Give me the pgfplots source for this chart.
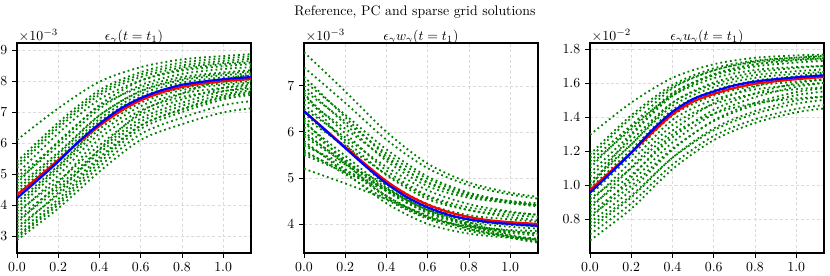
\documentclass[border=0pt]{standalone}
\usepackage{pgfplots}
\usepackage{pgfplotstable}
\pgfplotsset{compat=1.18}
\definecolor{mplgreen}{rgb}{0,0.5,0}

\pgfplotstableread{
x c1 c2 c3 c4 c5 c6 c7 c8 c9 c10 c11 c12 c13 c14 c15 c16 c17 c18 c19 c20 c21 c22 c23 c24 c25 c26
0 6.1 5.3 5.2 5.0 4.8 4.7 4.6 4.5 4.4 4.3 4.1 4.0 3.9 3.8 3.7 3.6 3.5 3.4 3.3 3.2 3.1 3.0 2.95 2.87 4.9 5.4
0.2 7.12 6.57 6.48 6.31 5.90 6.05 5.70 5.64 5.53 5.44 5.27 5.22 5.12 4.78 4.95 4.61 4.51 4.71 4.33 4.40 4.19 4.09 4.01 3.89 6.01 6.66
0.4 7.98 7.63 7.55 7.41 7.10 7.18 6.90 6.89 6.78 6.69 6.56 6.55 6.45 5.93 6.31 5.78 5.68 6.14 5.54 5.80 5.47 5.37 5.24 5.08 7.23 7.71
0.6 8.45 8.21 8.13 8.02 7.87 7.80 7.67 7.69 7.58 7.49 7.38 7.40 7.30 6.92 7.19 6.79 6.69 7.05 6.57 7.00 6.56 6.46 6.29 6.10 8.01 8.29
0.8 8.70 8.51 8.44 8.34 8.23 8.13 8.03 8.07 7.95 7.87 7.77 7.81 7.71 7.41 7.60 7.30 7.20 7.49 7.08 7.60 7.10 7.00 6.82 6.61 8.38 8.60
1.0 8.81 8.65 8.58 8.48 8.39 8.28 8.19 8.24 8.12 8.04 7.93 7.98 7.88 7.78 7.78 7.67 7.57 7.68 7.47 8.05 7.51 7.41 7.22 6.99 8.54 8.73
1.135 8.87 8.72 8.65 8.55 8.45 8.35 8.25 8.30 8.18 8.10 8.00 8.05 7.95 7.90 7.85 7.80 7.70 7.75 7.60 8.20 7.65 7.55 7.35 7.12 8.60 8.80
}\tabA

\pgfplotstableread{
x c1 c2 c3 c4 c5 c6 c7 c8 c9 c10 c11 c12 c13 c14 c15 c16 c17 c18 c19 c20 c21 c22 c23 c24 c25 c26
0 7.73 7.4 7.1 7.0 6.9 6.8 6.7 6.6 6.5 6.4 6.3 6.2 6.1 6.0 5.95 5.9 5.8 5.75 5.7 5.6 5.55 5.5 5.2 7.2 6.85 6.25
0.2 6.88 6.63 6.37 6.17 6.23 5.97 6.07 5.82 5.88 5.65 5.70 5.48 5.40 5.30 5.36 5.32 5.12 5.19 5.29 5.08 5.16 5.12 4.88 6.32 5.75 5.34
0.4 6.00 5.83 5.62 5.37 5.53 5.16 5.42 5.06 5.24 4.92 5.08 4.78 4.71 4.61 4.76 4.72 4.45 4.61 4.86 4.53 4.76 4.72 4.54 5.47 4.82 4.57
0.6 5.31 5.21 5.03 4.82 4.98 4.62 4.91 4.54 4.73 4.43 4.59 4.31 4.25 4.15 4.28 4.24 4.00 4.16 4.41 4.11 4.33 4.30 4.19 4.89 4.30 4.14
0.8 4.90 4.84 4.68 4.57 4.65 4.36 4.61 4.30 4.43 4.19 4.30 4.09 4.03 3.93 3.99 3.97 3.79 3.89 4.04 3.85 3.99 3.96 3.90 4.62 4.07 3.95
1.0 4.68 4.64 4.49 4.46 4.48 4.25 4.45 4.20 4.27 4.10 4.15 4.00 3.94 3.84 3.85 3.81 3.70 3.74 3.77 3.72 3.74 3.71 3.70 4.50 3.98 3.87
1.135 4.59 4.55 4.41 4.41 4.40 4.20 4.38 4.15 4.20 4.05 4.08 3.95 3.90 3.80 3.78 3.75 3.66 3.68 3.65 3.66 3.62 3.60 3.60 4.45 3.95 3.85
}\tabB

\pgfplotstableread{
x c1 c2 c3 c4 c5 c6 c7 c8 c9 c10 c11 c12 c13 c14 c15 c16 c17 c18 c19 c20 c21 c22 c23 c24 c25 c26
0 1.295 1.18 1.16 1.12 1.10 1.07 1.05 1.02 1.00 0.98 0.96 0.94 0.92 0.90 0.88 0.86 0.84 0.82 0.80 0.78 0.76 0.74 0.71 0.674 1.14 0.99
0.2 1.484 1.41 1.394 1.327 1.34 1.30 1.264 1.239 1.238 1.208 1.190 1.171 1.098 1.138 1.058 1.103 1.022 0.995 1.045 0.970 0.938 0.927 0.892 0.860 1.351 1.29
0.4 1.630 1.588 1.575 1.541 1.526 1.536 1.485 1.465 1.483 1.442 1.426 1.409 1.320 1.383 1.280 1.353 1.250 1.214 1.297 1.207 1.160 1.161 1.120 1.093 1.568 1.523
0.6 1.710 1.686 1.675 1.645 1.628 1.651 1.592 1.575 1.602 1.556 1.541 1.525 1.482 1.502 1.442 1.475 1.418 1.375 1.419 1.380 1.322 1.333 1.288 1.264 1.673 1.65
0.8 1.748 1.732 1.722 1.697 1.676 1.709 1.646 1.630 1.662 1.614 1.599 1.583 1.579 1.562 1.539 1.536 1.516 1.470 1.481 1.483 1.419 1.434 1.386 1.365 1.727 1.71
1.0 1.762 1.749 1.739 1.720 1.694 1.734 1.669 1.654 1.688 1.639 1.623 1.608 1.638 1.588 1.598 1.563 1.577 1.528 1.508 1.546 1.478 1.497 1.447 1.427 1.749 1.733
1.135 1.767 1.755 1.745 1.73 1.70 1.745 1.68 1.665 1.70 1.65 1.635 1.62 1.66 1.60 1.62 1.575 1.60 1.55 1.52 1.57 1.50 1.52 1.47 1.45 1.76 1.74
}\tabC

\pgfplotsset{
  panel/.style={
    scale only axis, width=168.48bp, height=151.2bp,
    xmin=0, xmax=1.135,
    xtick={0,0.2,0.4,0.6,0.8,1.0},
    xticklabel style={/pgf/number format/.cd,fixed,fixed zerofill,precision=1},
    tick pos=left, tick align=outside, major tick length=3.5bp,
    tick style={black, line width=0.6bp},
    grid=major, grid style={gray!28, line width=0.45bp, dash pattern=on 2.2bp off 1.6bp},
    axis line style={black, line width=1bp},
    anchor=south west,
    title style={yshift=-10.2bp},
  },
  gr/.style={mplgreen, line width=1.3bp, dash pattern=on 1.3bp off 2.2bp, smooth},
  bl/.style={blue, line width=1.6bp, smooth},
  rd/.style={red, line width=1.6bp, smooth},
}

\begin{document}
\begin{tikzpicture}
\useasboundingbox (0,0) rectangle (597.6bp,198.72bp);

\begin{axis}[panel, name=ax1, at={(12.24bp,16.56bp)},
  ymin=2.45, ymax=9.23, ytick={3,4,5,6,7,8,9},
  title={$\epsilon_\gamma(t=t_1)$}]
\pgfplotsinvokeforeach{1,...,26}{\addplot[gr] table[x=x,y=c#1]{\tabA};}
\addplot[rd] coordinates {(0,4.33)(0.1,4.88)(0.2,5.45)(0.3,6.03)(0.4,6.56)(0.5,7.02)(0.6,7.38)(0.7,7.63)(0.8,7.81)(0.9,7.92)(1.0,8.0)(1.135,8.07)};
\addplot[bl] coordinates {(0,4.22)(0.1,4.8)(0.2,5.4)(0.3,6.05)(0.4,6.62)(0.5,7.1)(0.6,7.45)(0.7,7.7)(0.8,7.88)(0.9,7.98)(1.0,8.06)(1.135,8.13)};
\end{axis}
\node[anchor=south west, inner sep=1bp] at (ax1.north west) {$\times10^{-3}$};

\begin{axis}[panel, name=ax2, at={(218.88bp,16.56bp)},
  ymin=3.37, ymax=7.93, ytick={4,5,6,7},
  title={$\epsilon_\gamma w_\gamma(t=t_1)$}]
\pgfplotsinvokeforeach{1,...,26}{\addplot[gr] table[x=x,y=c#1]{\tabB};}
\addplot[rd] coordinates {(0,6.45)(0.1,6.06)(0.2,5.67)(0.3,5.29)(0.4,4.93)(0.5,4.64)(0.6,4.42)(0.7,4.26)(0.8,4.15)(0.9,4.08)(1.0,4.04)(1.135,4.0)};
\addplot[bl] coordinates {(0,6.45)(0.1,6.05)(0.2,5.65)(0.3,5.25)(0.4,4.88)(0.5,4.58)(0.6,4.36)(0.7,4.2)(0.8,4.1)(0.9,4.04)(1.0,4.0)(1.135,3.96)};
\end{axis}
\node[anchor=south west, inner sep=1bp] at (ax2.north west) {$\times10^{-3}$};

\begin{axis}[panel, name=ax3, at={(424.8bp,16.56bp)},
  ymin=0.6, ymax=1.835, ytick={0.8,1.0,1.2,1.4,1.6,1.8},
  yticklabel style={/pgf/number format/.cd,fixed,fixed zerofill,precision=1},
  title={$\epsilon_\gamma u_\gamma(t=t_1)$}]
\pgfplotsinvokeforeach{1,...,26}{\addplot[gr] table[x=x,y=c#1]{\tabC};}
\addplot[rd] coordinates {(0,0.97)(0.1,1.08)(0.2,1.19)(0.3,1.305)(0.4,1.415)(0.5,1.49)(0.6,1.535)(0.7,1.57)(0.8,1.595)(0.9,1.61)(1.0,1.622)(1.135,1.635)};
\addplot[bl] coordinates {(0,0.955)(0.1,1.07)(0.2,1.19)(0.3,1.32)(0.4,1.43)(0.5,1.505)(0.6,1.55)(0.7,1.585)(0.8,1.608)(0.9,1.622)(1.0,1.633)(1.135,1.645)};
\end{axis}
\node[anchor=south west, inner sep=1bp] at (ax3.north west) {$\times10^{-2}$};

\node at (298.8bp,190bp) {Reference, PC and sparse grid solutions};
\end{tikzpicture}
\end{document}
